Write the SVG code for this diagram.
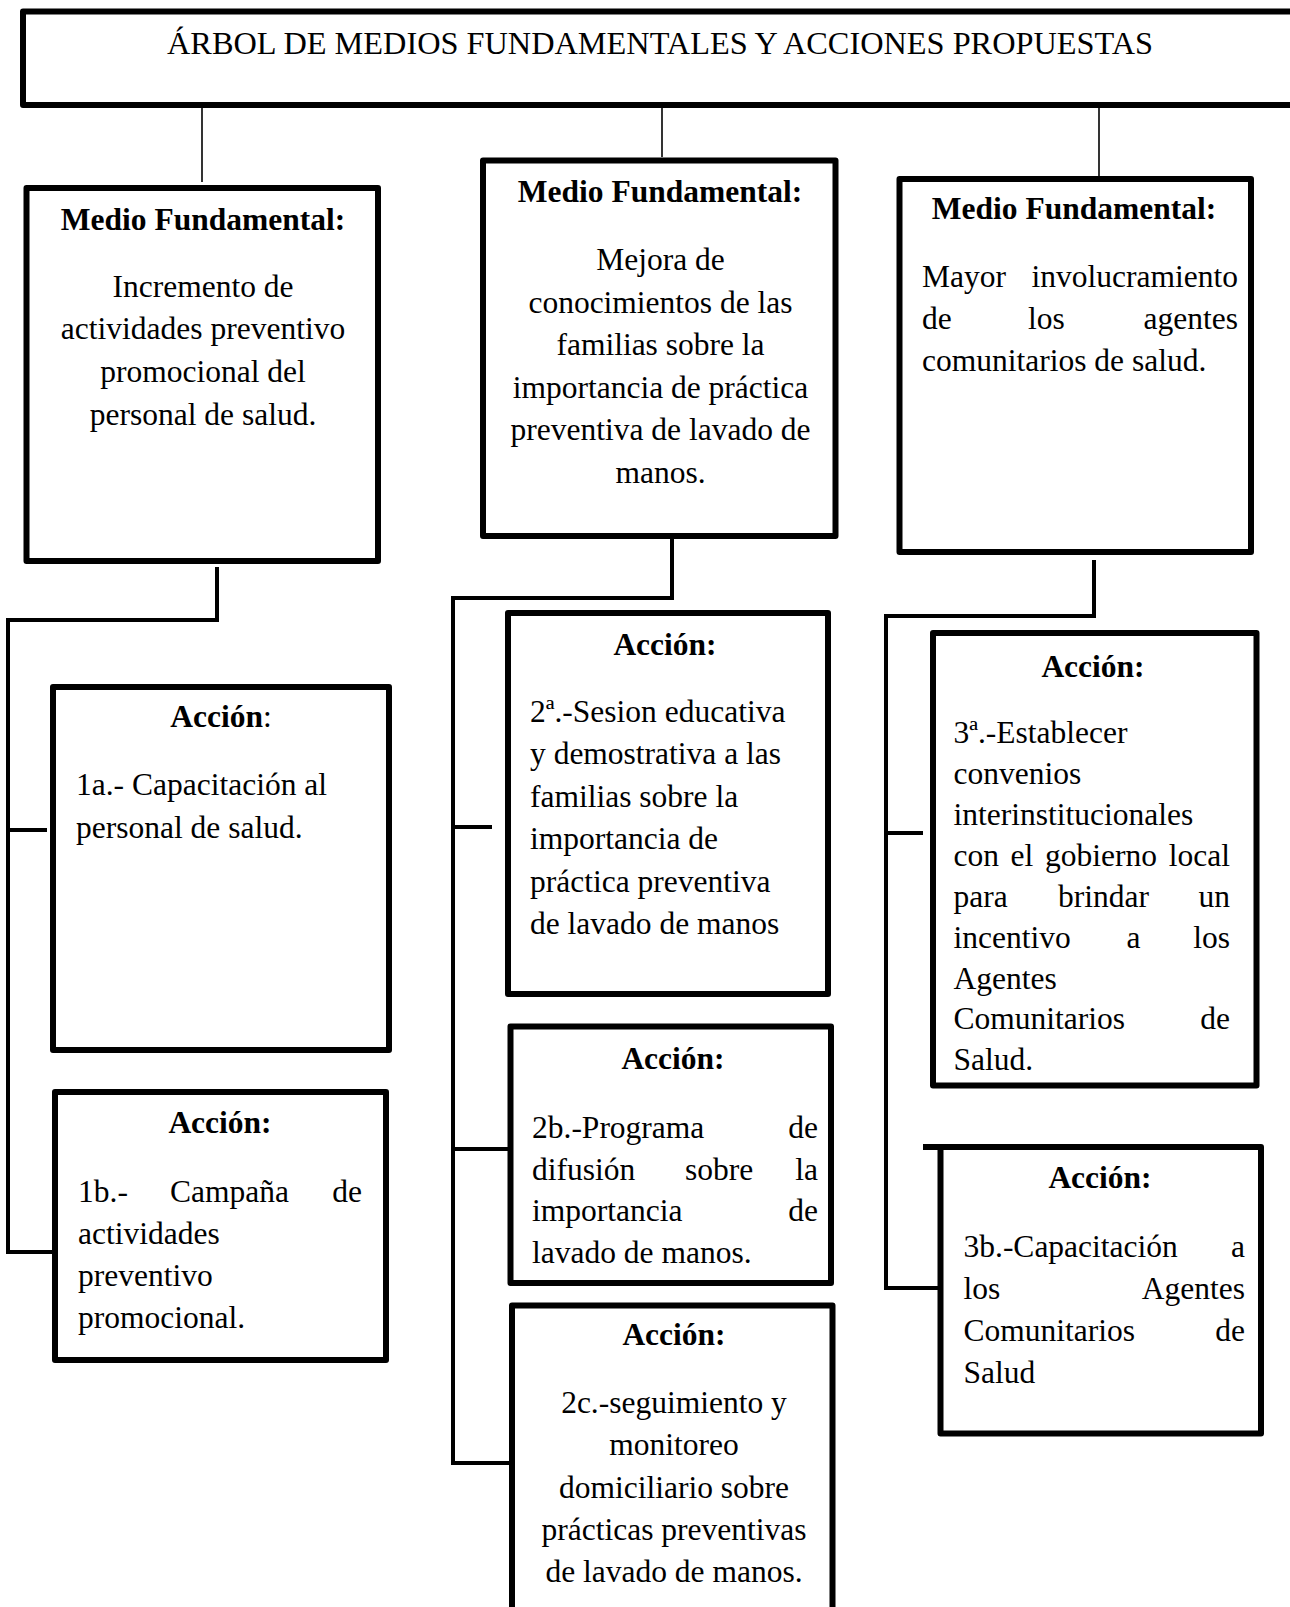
<svg xmlns="http://www.w3.org/2000/svg" width="1290" height="1607" viewBox="0 0 1290 1607">
<style>
.box{fill:#fff;stroke:#000;stroke-width:6;stroke-linejoin:round}
.t{font-family:"Liberation Serif","Times New Roman",serif;font-size:31.5px;fill:#000}
.b{font-weight:bold}
.c{text-anchor:middle}
.e{text-anchor:end}
.con{fill:none;stroke:#000;stroke-width:4;stroke-linejoin:miter}
.thin{fill:none;stroke:#000;stroke-width:1.6}
</style>
<rect width="1290" height="1607" fill="#fff"/>
<g id="connectors">
<path class="thin" d="M202,106 V182"/>
<path class="thin" d="M662,106 V157"/>
<path class="thin" d="M1099,106 V176"/>
<path class="con" d="M217,567 V620 H8 V1252 H62"/>
<path class="con" d="M8,830 H47"/>
<path class="con" d="M672,526 V598 H453 V1463 H510"/>
<path class="con" d="M453,827 H492"/>
<path class="con" d="M453,1149 H512"/>
<path class="con" d="M1094,560 V616 H886 V1288 H938"/>
<path class="con" d="M886,833 H923"/>
</g>
<g id="title">
<rect class="box" x="23" y="11.5" width="1290" height="93.5"/>
<text class="t" x="167" y="54" font-size="30" textLength="986" lengthAdjust="spacingAndGlyphs">ÁRBOL DE MEDIOS FUNDAMENTALES Y ACCIONES PROPUESTAS</text>
</g>
<g id="mf1">
<rect class="box" x="26.5" y="188" width="351.5" height="373"/>
<text class="t b c" x="203" y="230">Medio Fundamental:</text>
<text class="t c" x="203" y="297">Incremento de</text>
<text class="t c" x="203" y="339">actividades preventivo</text>
<text class="t c" x="203" y="382">promocional del</text>
<text class="t c" x="203" y="425">personal de salud.</text>
</g>
<g id="mf2">
<rect class="box" x="483" y="160.5" width="352.5" height="375.5"/>
<text class="t b c" x="660" y="202">Medio Fundamental:</text>
<text class="t c" x="660.5" y="270">Mejora de</text>
<text class="t c" x="660.5" y="312.5">conocimientos de las</text>
<text class="t c" x="660.5" y="355">familias sobre la</text>
<text class="t c" x="660.5" y="397.5">importancia de práctica</text>
<text class="t c" x="660.5" y="440">preventiva de lavado de</text>
<text class="t c" x="660.5" y="482.5">manos.</text>
</g>
<g id="mf3">
<rect class="box" x="899.5" y="179" width="351.5" height="373"/>
<text class="t b c" x="1074" y="219">Medio Fundamental:</text>
<text class="t" x="922" y="287">Mayor</text>
<text class="t e" x="1238" y="287">involucramiento</text>
<text class="t" x="922" y="329">de</text>
<text class="t" x="1028" y="329">los</text>
<text class="t e" x="1238" y="329">agentes</text>
<text class="t" x="922" y="371">comunitarios de salud.</text>
</g>
<g id="accion1a">
<rect class="box" x="53" y="687" width="336" height="363"/>
<text class="t c" x="221" y="727"><tspan class="b">Acción</tspan>:</text>
<text class="t" x="76" y="795">1a.- Capacitación al</text>
<text class="t" x="76" y="838">personal de salud.</text>
</g>
<g id="accion1b">
<rect class="box" x="55" y="1092" width="331" height="268"/>
<text class="t b c" x="220" y="1133">Acción:</text>
<text class="t" x="78" y="1202">1b.-</text>
<text class="t" x="170" y="1202">Campaña</text>
<text class="t e" x="362" y="1202">de</text>
<text class="t" x="78" y="1243.5">actividades</text>
<text class="t" x="78" y="1286">preventivo</text>
<text class="t" x="78" y="1328">promocional.</text>
</g>
<g id="accion2a">
<rect class="box" x="508" y="613" width="320" height="381"/>
<text class="t b c" x="665" y="655">Acción:</text>
<text class="t" x="530" y="721.5">2ª.-Sesion educativa</text>
<text class="t" x="530" y="764">y demostrativa a las</text>
<text class="t" x="530" y="806.5">familias sobre la</text>
<text class="t" x="530" y="849">importancia de</text>
<text class="t" x="530" y="891.5">práctica preventiva</text>
<text class="t" x="530" y="934">de lavado de manos</text>
</g>
<g id="accion2b">
<rect class="box" x="510.5" y="1026.5" width="320.5" height="256.5"/>
<text class="t b c" x="673" y="1069">Acción:</text>
<text class="t" x="532" y="1138">2b.-Programa</text>
<text class="t e" x="818" y="1138">de</text>
<text class="t" x="532" y="1179.5">difusión</text>
<text class="t" x="685" y="1179.5">sobre</text>
<text class="t e" x="818" y="1179.5">la</text>
<text class="t" x="532" y="1221">importancia</text>
<text class="t e" x="818" y="1221">de</text>
<text class="t" x="532" y="1263">lavado de manos.</text>
</g>
<g id="accion2c">
<rect class="box" x="512" y="1305.5" width="320.5" height="320"/>
<text class="t b c" x="674" y="1345">Acción:</text>
<text class="t c" x="674" y="1413">2c.-seguimiento y</text>
<text class="t c" x="674" y="1455">monitoreo</text>
<text class="t c" x="674" y="1497.5">domiciliario sobre</text>
<text class="t c" x="674" y="1539.5">prácticas preventivas</text>
<text class="t c" x="674" y="1582">de lavado de manos.</text>
</g>
<g id="accion3a">
<rect class="box" x="933" y="633" width="323.5" height="452.5"/>
<text class="t b c" x="1093" y="677">Acción:</text>
<text class="t" x="953.5" y="743">3ª.-Establecer</text>
<text class="t" x="953.5" y="784">convenios</text>
<text class="t" x="953.5" y="825">interinstitucionales</text>
<text class="t" x="953.5" y="866">con</text>
<text class="t" x="1010.5" y="866">el</text>
<text class="t" x="1045" y="866">gobierno</text>
<text class="t e" x="1230" y="866">local</text>
<text class="t" x="953.5" y="907">para</text>
<text class="t" x="1058" y="907">brindar</text>
<text class="t e" x="1230" y="907">un</text>
<text class="t" x="953.5" y="947.5">incentivo</text>
<text class="t" x="1126.5" y="947.5">a</text>
<text class="t e" x="1230" y="947.5">los</text>
<text class="t" x="953.5" y="988.5">Agentes</text>
<text class="t" x="953.5" y="1029">Comunitarios</text>
<text class="t e" x="1230" y="1029">de</text>
<text class="t" x="953.5" y="1070">Salud.</text>
</g>
<g id="accion3b">
<rect class="box" x="940.5" y="1147" width="320.5" height="286.5"/>
<path d="M923,1147 H941" stroke="#000" stroke-width="6" fill="none"/>
<text class="t b c" x="1100" y="1188">Acción:</text>
<text class="t" x="963.5" y="1257">3b.-Capacitación</text>
<text class="t e" x="1245" y="1257">a</text>
<text class="t" x="963.5" y="1298.5">los</text>
<text class="t e" x="1245" y="1298.5">Agentes</text>
<text class="t" x="963.5" y="1340.5">Comunitarios</text>
<text class="t e" x="1245" y="1340.5">de</text>
<text class="t" x="963.5" y="1383">Salud</text>
</g>
</svg>
